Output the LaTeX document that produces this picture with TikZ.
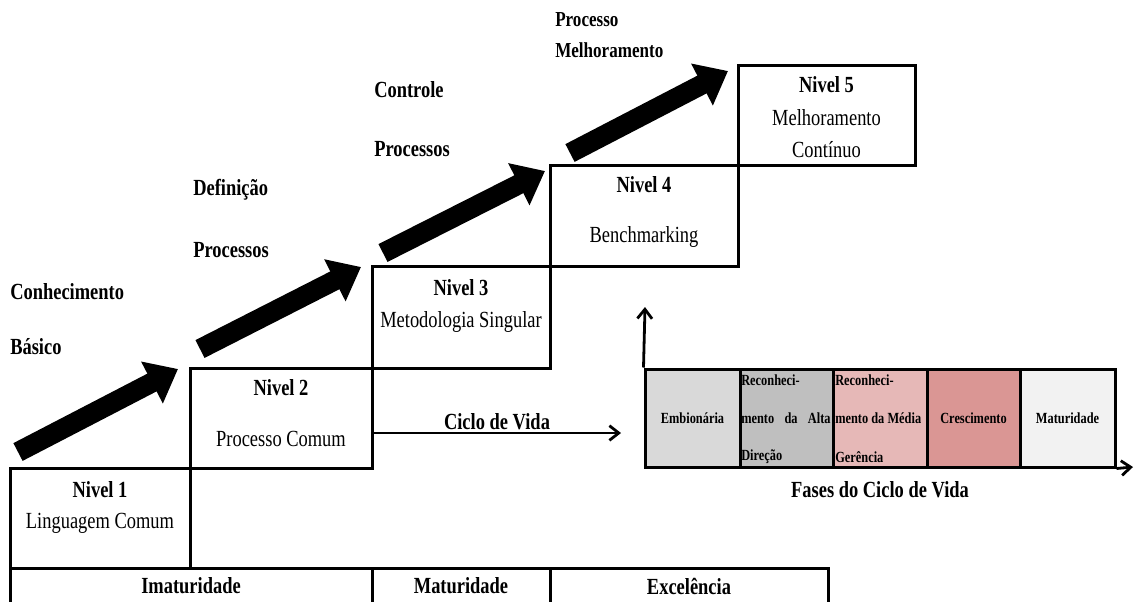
\documentclass[tikz,border=0pt]{standalone}
\usepackage{fontspec}
\setmainfont{Liberation Serif}[FakeStretch=0.8]
\usetikzlibrary{arrows.meta}
\definecolor{cemb}{HTML}{D9D9D9}
\definecolor{calta}{HTML}{BFBFBF}
\definecolor{cmedia}{HTML}{E6B8B7}
\definecolor{ccresc}{HTML}{DA9694}
\definecolor{cmat}{HTML}{F2F2F2}
\begin{document}
\begin{tikzpicture}[x=0.75pt,y=-0.75pt,
  lvl/.style={draw,line width=2.25pt,inner sep=0pt},
  cell/.style={draw,line width=2.25pt,inner sep=0pt,minimum height=73.5pt},
  bar/.style={draw,line width=2.25pt,inner sep=0pt,minimum height=27pt,font=\fontsize{17.3}{19}\selectfont\bfseries},
  ttl/.style={font=\fontsize{17.3}{19}\selectfont\bfseries,inner sep=0pt},
  sub/.style={font=\fontsize{17.3}{19}\selectfont,inner sep=0pt},
  lab/.style={font=\fontsize{17.3}{19}\selectfont\bfseries,inner sep=0pt,anchor=west},
  ctx/.style={font=\fontsize{11.6}{13}\selectfont\bfseries,inner sep=0pt},
  bigarrow/.style={line width=15pt,-{Triangle[length=22pt,width=34pt]}},
  thinarrow/.style={line width=2.1pt,-{Straight Barb[length=7pt,width=11pt]}}
]
\useasboundingbox (0,0) rectangle (1134,601);

% level boxes
\node[lvl,minimum width=135pt,minimum height=75pt] (n1) at (100,518) {};
\node[lvl,minimum width=136.5pt,minimum height=75pt] (n2) at (281,418) {};
\node[lvl,minimum width=133.5pt,minimum height=76.5pt] (n3) at (461,317) {};
\node[lvl,minimum width=141pt,minimum height=75.75pt] (n4) at (644,215.5) {};
\node[lvl,minimum width=132.75pt,minimum height=75pt] (n5) at (826.5,115.5) {};

\node[ttl] (t1) at (100,490) {Nivel 1};
\node[sub] (s1) at (100,523) {Linguagem Comum};
\node[ttl] (t2) at (281,388) {Nivel 2};
\node[sub] (s2) at (281,439) {Processo Comum};
\node[ttl] (t3) at (461,288) {Nivel 3};
\node[sub] (s3) at (461,322) {Metodologia Singular};
\node[ttl] (t4) at (644,185) {Nivel 4};
\node[sub] (s4) at (644,237) {Benchmarking};
\node[ttl] (t5) at (826.5,85) {Nivel 5};
\node[sub] (s5a) at (826.5,118) {Melhoramento};
\node[sub] (s5b) at (826.5,150) {Contínuo};

% bottom bar
\node[bar,minimum width=271.5pt] (imat) at (191,586) {Imaturidade};
\node[bar,minimum width=133.5pt] (matu) at (461,586) {Maturidade};
\node[bar,minimum width=208.5pt] (exce) at (689,586) {Excelência};

% labels
\node[lab] (l1a) at (10,292) {Conhecimento};
\node[lab] (l1b) at (10,347) {Básico};
\node[lab] (l2a) at (193,190) {Definição};
\node[lab] (l2b) at (193,250) {Processos};
\node[lab] (l3a) at (374,90) {Controle};
\node[lab] (l3b) at (374,149) {Processos};
\node[lab,font=\fontsize{16}{18}\selectfont\bfseries] (l4a) at (555,20) {Processo};
\node[lab,font=\fontsize{16}{18}\selectfont\bfseries] (l4b) at (555,50) {Melhoramento};

% big arrows
\coordinate (a1s) at (18,452); \coordinate (a1e) at (178,369);
\coordinate (a2s) at (200,349); \coordinate (a2e) at (361,267);
\coordinate (a3s) at (383,253); \coordinate (a3e) at (545,171);
\coordinate (a4s) at (570,153); \coordinate (a4e) at (728,71);
\draw[bigarrow] (a1s) -- (a1e);
\draw[bigarrow] (a2s) -- (a2e);
\draw[bigarrow] (a3s) -- (a3e);
\draw[bigarrow] (a4s) -- (a4e);

% life cycle table
\node[cell,fill=cemb,minimum width=71.25pt] (emb) at (692.5,418) {};
\node[cell,fill=calta,minimum width=69.75pt] (alta) at (786.5,418) {};
\node[cell,fill=cmedia,minimum width=70.5pt] (media) at (880,418) {};
\node[cell,fill=ccresc,minimum width=69.75pt] (cresc) at (973.5,418) {};
\node[cell,fill=cmat,minimum width=71.25pt] (mat) at (1067.5,418) {};

\node[ctx] (temb) at (692.5,418) {Embionária};
\node[ctx,anchor=west] (ta1) at (741,380) {Reconheci-};
\node[ctx,anchor=west] (ta2) at (741,418) {\hbox to 67pt{mento\hfill da\hfill Alta}};
\node[ctx,anchor=west] (ta3) at (741,457) {Direção};
\node[ctx,anchor=west] (tm1) at (835,380) {Reconheci-};
\node[ctx,anchor=west] (tm2) at (835,418) {mento da Média};
\node[ctx,anchor=west] (tm3) at (835,457) {Gerência};
\node[ctx] (tcr) at (973.5,418) {Crescimento};
\node[ctx] (tmt) at (1067.5,418) {Maturidade};

\node[ttl] (fases) at (880,490) {Fases do Ciclo de Vida};

\coordinate (vtop) at (645,307);
\coordinate (hend) at (1133,467);
\draw[thinarrow] (emb.north west) -- (vtop);
\draw[thinarrow] (mat.south east) -- (hend);

% ciclo de vida arrow
\coordinate (cvend) at (621,433);
\draw[thinarrow] ([yshift=-11.25pt]n2.east) -- (cvend);
\node[ttl] (cvl) at (497,422) {Ciclo de Vida};

\end{tikzpicture}
\end{document}
